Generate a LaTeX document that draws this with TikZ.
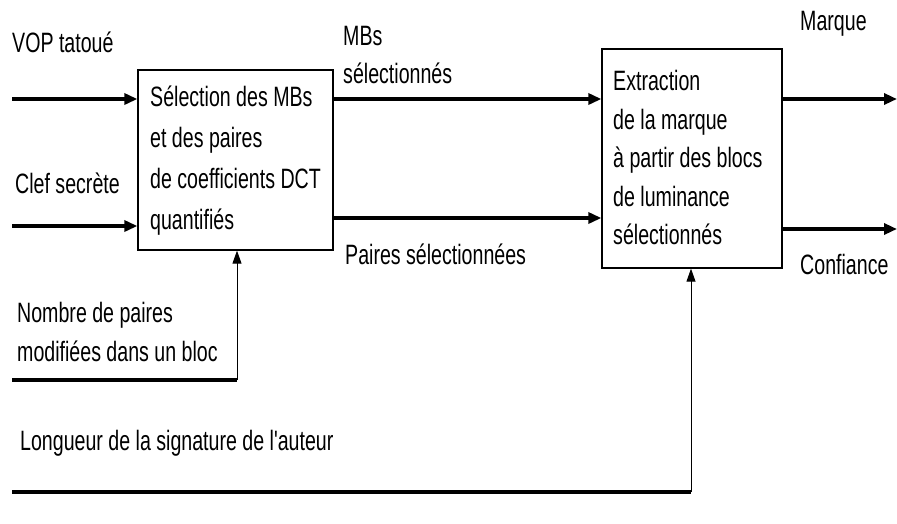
\documentclass[tikz,border=0pt]{standalone}
\usepackage{fontspec}
\setmainfont{Liberation Sans}[FakeStretch=0.70,Ligatures=TeXOff]
\usetikzlibrary{arrows.meta}
\begin{document}
\begin{tikzpicture}[x=1pt,y=-1pt,
  lbl/.style={anchor=west,inner sep=0pt,align=left,font=\fontsize{28}{39}\selectfont},
  blk/.style={draw,line width=1.3pt,minimum width=#1,inner sep=0pt},
  thickarr/.style={line width=3.2pt,-{Triangle[length=13pt,width=11pt]}},
  thinarr/.style={line width=1pt,-{Triangle[length=13pt,width=9pt]}},
  thickln/.style={line width=3.2pt}]
\useasboundingbox (0,0) rectangle (897,523);
% boxes
\node[blk=195pt,minimum height=180pt] (b1) at (235.5,160) {};
\node[blk=180pt,minimum height=219pt] (b2) at (692,158.5) {};
\node[lbl,font=\fontsize{28}{41}\selectfont] (t1) at (150,161) {Sélection des MBs\\et des paires\\de coefficients DCT\\quantifiés};
\node[lbl,font=\fontsize{28}{38.5}\selectfont] (t2) at (613,157.5) {Extraction\\de la marque\\à partir des blocs\\de luminance\\sélectionnés};
% labels
\node[lbl] (lvop) at (12,42) {VOP tatoué};
\node[lbl] (lclef) at (15,183) {Clef secrète};
\node[lbl] (lnb) at (17,332) {Nombre de paires\\modifiées dans un bloc};
\node[lbl] (llong) at (20,443) {Longueur de la signature de l'auteur};
\node[lbl] (lmbs) at (343,55) {MBs\\sélectionnés};
\node[lbl] (lpai) at (345,254) {Paires sélectionnées};
\node[lbl] (lmar) at (800,24) {Marque};
\node[lbl] (lconf) at (800,264) {Confiance};
% free ends
\coordinate (vopS) at (12,99);
\coordinate (clefS) at (12,226);
\coordinate (nbS) at (12,380);
\coordinate (nbC) at (237,380);
\coordinate (lgS) at (12,492);
\coordinate (lgC) at (691,492);
\coordinate (marE) at (897,99);
\coordinate (confE) at (897,229);
% connectors
\draw[thickarr] (vopS) -- (vopS -| b1.west);
\draw[thickarr] (clefS) -- (clefS -| b1.west);
\draw[thickarr] (b1.east |- 0,99) -- (b2.west |- 0,99);
\draw[thickarr] (b1.east |- 0,218) -- (b2.west |- 0,218);
\draw[thickarr] (b2.east |- marE) -- (marE);
\draw[thickarr] (b2.east |- confE) -- (confE);
\draw[thickln] (nbS) -- (nbC);
\draw[thinarr] (nbC) -- (nbC |- b1.south);
\draw[thickln] (lgS) -- (lgC);
\draw[thinarr] (lgC) -- (lgC |- b2.south);
\end{tikzpicture}
\end{document}
